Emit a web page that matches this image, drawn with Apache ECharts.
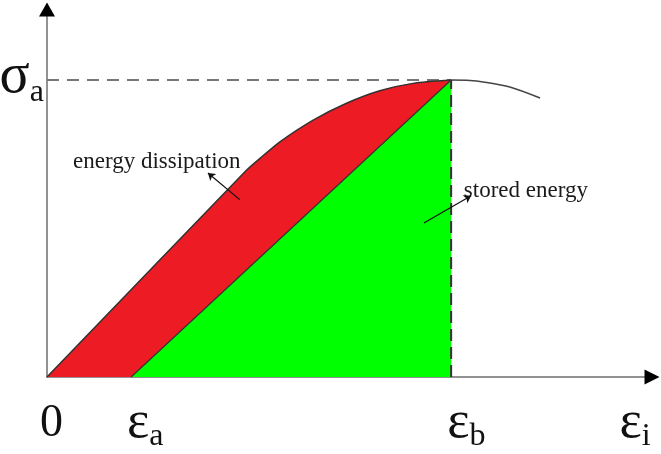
<!DOCTYPE html>
<html><head><meta charset="utf-8">
<script src="https://cdn.jsdelivr.net/npm/echarts@6/dist/echarts.min.js"></script>
<style>html,body{margin:0;padding:0;background:#fff}#c{width:661px;height:454px}</style>
</head><body><div id="c"></div>
<script>
// Data (schematic units: x and y both 0..100)
const curveX = [0, 33.0, 35.2, 38.5, 44.0, 49.5, 55.0, 60.5, 66.8];
const curveY = [0, 56.3, 59.5, 64.0, 69.9, 74.5, 77.9, 79.9, 80.8];
const tailX = [66.8, 69.9, 72.1, 76.5, 81.5];
const tailY = [80.8, 80.7, 80.3, 78.9, 75.9];
const epsA = 13.9;
const epsB = 66.8;
const sigmaA = 80.8;
const xTickValues = [0, epsA, epsB, 95.3];
const xTickMain = ['0', 'ε', 'ε', 'ε'];
const xTickSub = ['', 'a', 'b', 'i'];
const yTickValues = [sigmaA];
const yTickMain = ['σ'];
const yTickSub = ['a'];
const annTexts = ['energy dissipation', 'stored energy'];
const annTextPos = [[4.3, 58.6], [68.9, 50.6]];
const annArrowFrom = [[31.9, 48.2], [62.3, 41.9]];
const annArrowTo = [[26.6, 55.5], [70.1, 49.3]];

const pair = (xs, ys) => xs.map((x, i) => [x, ys[i]]);
const SERIF = '"Liberation Serif","Times New Roman",serif';
const axisCol = '#6e6e6e';

const chart = echarts.init(document.getElementById('c'), null, {renderer: 'canvas'});
const option = {
  animation: false,
  backgroundColor: '#fff',
  grid: {left: 47, right: 9, top: 9.5, bottom: 77, containLabel: false},
  xAxis: {type: 'value', min: 0, max: 100, splitLine: {show: false},
    axisTick: {show: false}, axisLabel: {show: false},
    axisLine: {show: true, lineStyle: {color: axisCol, width: 1.5}}},
  yAxis: {type: 'value', min: 0, max: 100, splitLine: {show: false},
    axisTick: {show: false}, axisLabel: {show: false},
    axisLine: {show: true, lineStyle: {color: axisCol, width: 1.5}}},
  series: [
    {type: 'line', name: 'dissipation', data: pair(curveX, curveY), smooth: 0.25,
     symbol: 'none', z: 2,
     lineStyle: {color: '#333', width: 1.5},
     areaStyle: {color: '#ED1C24', opacity: 1}},
    {type: 'line', name: 'stored', data: [[epsA, 0], [epsB, sigmaA]], symbol: 'none', z: 3,
     lineStyle: {color: '#333', width: 1.2},
     areaStyle: {color: '#00FF00', opacity: 1}},
    {type: 'line', name: 'tail', data: pair(tailX, tailY), smooth: 0.3, symbol: 'none', z: 3,
     lineStyle: {color: '#444', width: 1.5}},
    {type: 'line', name: 'hdash', data: [[0, sigmaA], [epsB, sigmaA]], symbol: 'none', z: 1,
     lineStyle: {color: '#777', width: 2, type: [12, 8]}},
    {type: 'line', name: 'vdash', data: [[epsB, 0], [epsB, sigmaA]], symbol: 'none', z: 4,
     lineStyle: {color: '#333', width: 2, type: [12, 6]}},
    {type: 'line', name: 'arrows', data: [], symbol: 'none', z: 5,
     markLine: {silent: true, symbol: ['none', 'arrow'], symbolSize: 7, label: {show: false},
       lineStyle: {color: '#111', width: 1.2, type: 'solid'},
       data: annArrowFrom.map((f, i) => [{coord: f}, {coord: annArrowTo[i]}])},
     markPoint: {silent: true, symbol: 'triangle', itemStyle: {color: '#000'}, label: {show: false},
       data: [{coord: [100, 0], symbolSize: [15, 15], symbolRotate: -90},
              {coord: [0, 100], symbolSize: [16, 14], symbolRotate: 0}]}}
  ]
};
chart.setOption(option);

const ctx = document.createElement('canvas').getContext('2d');
const measure = (t, font) => { ctx.font = font; return ctx.measureText(t).width; };
const F0 = '46px ' + SERIF, FE = '53px ' + SERIF, FS = '32px ' + SERIF, FSig = '56px ' + SERIF;
const txt = (x, y, t, font, align) => ({type: 'text', silent: true,
  style: {x: x, y: y, text: t, font: font, fill: '#111', align: align || 'left', verticalAlign: 'middle'}});
const g = [];
xTickValues.forEach((v, i) => {
  const p = chart.convertToPixel({gridIndex: 0}, [v, 0]);
  if (!xTickSub[i]) {
    g.push(txt(p[0] - 7, 424, xTickMain[i], F0));
  } else {
    const x0 = p[0] - 4;
    g.push(txt(x0, 423, xTickMain[i], FE));
    g.push(txt(x0 + measure(xTickMain[i], FE), 437, xTickSub[i], FS));
  }
});
yTickValues.forEach((v, i) => {
  const p = chart.convertToPixel({gridIndex: 0}, [0, v]);
  const right = p[0] - 3;
  const wa = measure(yTickSub[i], FS);
  g.push(txt(right - wa, p[1] - 3, yTickMain[i], FSig, 'right'));
  g.push(txt(right, p[1] + 13, yTickSub[i], FS, 'right'));
});
annTexts.forEach((t, i) => {
  const p = chart.convertToPixel({gridIndex: 0}, annTextPos[i]);
  g.push({type: 'text', silent: true, style: {x: p[0], y: p[1], text: t, font: '23px ' + SERIF, fill: '#1a1a1a', align: 'left', verticalAlign: 'middle'}});
});
chart.setOption({graphic: g});
</script></body></html>
